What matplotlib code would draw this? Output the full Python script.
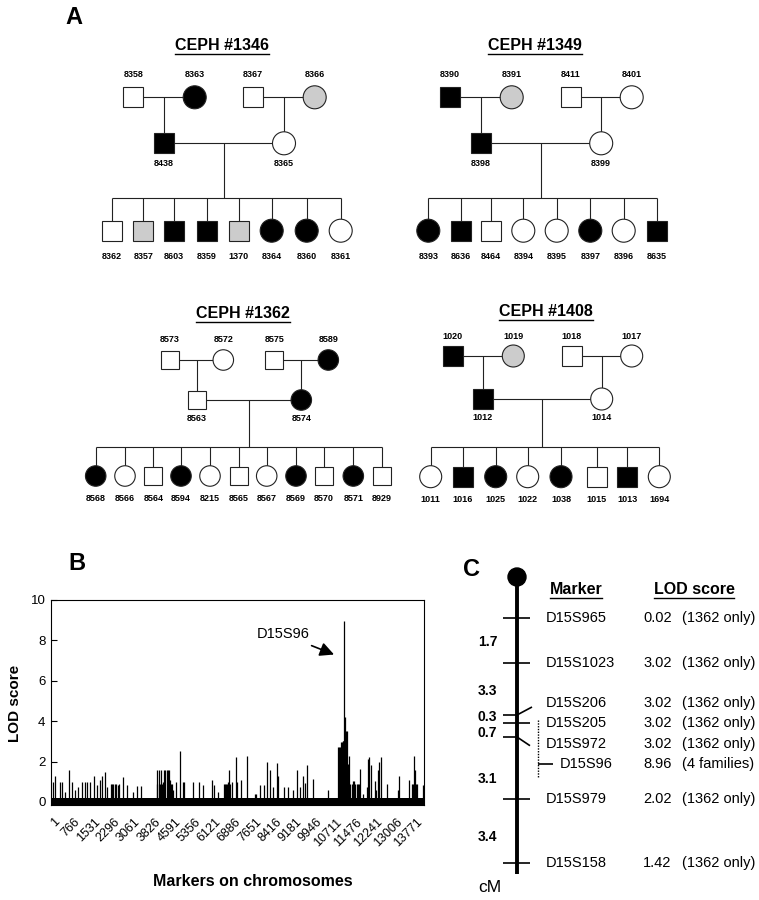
import matplotlib
matplotlib.use('Agg')
import matplotlib.pyplot as plt
from matplotlib.patches import Rectangle, Circle
from matplotlib.transforms import ScaledTranslation

plt.rcParams['font.family'] = ['Liberation Sans', 'DejaVu Sans']

# ---------------- DATA ----------------
# Pedigrees (sex: M/F, status: A affected, U unaffected, G gray/uncertain)
ped_titles = ['CEPH #1346', 'CEPH #1349', 'CEPH #1362', 'CEPH #1408']

f1346_gp_ids = ['8358', '8363', '8367', '8366']
f1346_gp_sex = 'MFMF'
f1346_gp_stat = 'UAUG'
f1346_par_ids = ['8438', '8365']
f1346_par_sex = 'MF'
f1346_par_stat = 'AU'
f1346_kid_ids = ['8362', '8357', '8603', '8359', '1370', '8364', '8360', '8361']
f1346_kid_sex = 'MMMMMFFF'
f1346_kid_stat = 'UGAAGAAU'

f1349_gp_ids = ['8390', '8391', '8411', '8401']
f1349_gp_sex = 'MFMF'
f1349_gp_stat = 'AGUU'
f1349_par_ids = ['8398', '8399']
f1349_par_sex = 'MF'
f1349_par_stat = 'AU'
f1349_kid_ids = ['8393', '8636', '8464', '8394', '8395', '8397', '8396', '8635']
f1349_kid_sex = 'FMMFFFFM'
f1349_kid_stat = 'AAUUUAUA'

f1362_gp_ids = ['8573', '8572', '8575', '8589']
f1362_gp_sex = 'MFMF'
f1362_gp_stat = 'UUUA'
f1362_par_ids = ['8563', '8574']
f1362_par_sex = 'MF'
f1362_par_stat = 'UA'
f1362_kid_ids = ['8568', '8566', '8564', '8594', '8215', '8565', '8567', '8569', '8570', '8571', '8929']
f1362_kid_sex = 'FFMFFMFFMFM'
f1362_kid_stat = 'AUUAUUUAUAU'

f1408_gp_ids = ['1020', '1019', '1018', '1017']
f1408_gp_sex = 'MFMF'
f1408_gp_stat = 'AGUU'
f1408_par_ids = ['1012', '1014']
f1408_par_sex = 'MF'
f1408_par_stat = 'AU'
f1408_kid_ids = ['1011', '1016', '1025', '1022', '1038', '1015', '1013', '1694']
f1408_kid_sex = 'FMFFFMMF'
f1408_kid_stat = 'UAAUAUAU'

# Panel B: genome-wide LOD scores (marker index, LOD)
marker_pos = [63, 164, 341, 417, 544, 695, 809, 898, 1037, 1163, 1290, 1378, 1479, 1644, 1732,
              1859, 1947, 2036, 2112, 2276, 2320, 2370, 2428, 2480, 2530, 2580, 2744, 2870, 3098,
              3275, 3402, 4008, 4040, 4084, 4120, 4160, 4198, 4261, 4300, 4340, 4388, 4430, 4470,
              4514, 4550, 4590, 4641, 4742, 4894, 4995, 5040, 5374, 5627, 5753, 6107, 6183, 6323,
              6563, 6600, 6640, 6664, 6700, 6765, 6800, 6850, 7018, 7060, 7195, 7448, 7739, 7790,
              7929, 8093, 8206, 8308, 8434, 8561, 8624, 8839, 9003, 9193, 9319, 9446, 9547, 9636,
              9699, 9952, 10521, 10900, 10930, 10963, 10995, 11026, 11060, 11090, 11128, 11153,
              11185, 11216, 11250, 11292, 11340, 11406, 11450, 11494, 11540, 11596, 11640, 11697,
              11722, 11850, 11975, 12013, 12076, 12139, 12291, 12330, 12392, 12455, 12506, 12734,
              13177, 13214, 13593, 13680, 13745, 13783, 13821, 13860, 13897, 14124]
lod_values = [1.0, 1.3, 1.0, 1.0, 0.5, 1.6, 1.0, 0.6, 0.75, 1.0, 1.0, 1.0, 1.0, 1.3, 0.85,
              1.1, 1.3, 1.5, 0.75, 0.9, 0.9, 0.9, 0.9, 0.9, 0.85, 0.9, 1.25, 0.85, 0.5,
              0.8, 0.8, 1.6, 0.9, 1.6, 0.9, 1.6, 0.9, 1.0, 1.6, 1.6, 1.6, 1.6, 1.6,
              1.1, 0.9, 0.9, 0.6, 1.0, 2.5, 1.0, 1.0, 1.0, 1.0, 0.85, 1.1, 0.85, 0.5,
              0.9, 0.9, 0.9, 0.9, 1.0, 1.6, 0.9, 1.0, 2.25, 1.0, 1.1, 2.3, 0.4, 0.4,
              0.85, 0.85, 2.0, 1.6, 0.75, 1.95, 1.3, 0.75, 0.75, 0.6, 1.6, 0.75, 1.3, 0.95,
              1.85, 1.15, 0.6, 2.7, 2.7, 2.7, 2.95, 2.95, 3.0, 3.0, 8.96, 4.2,
              3.5, 3.5, 1.9, 2.3, 0.9, 0.9, 1.05, 1.05, 0.9, 0.9, 0.9, 0.9,
              1.65, 0.4, 0.75, 2.15, 2.25, 1.85, 1.05, 0.6, 1.6, 2.0, 2.25, 0.9,
              0.6, 1.3, 1.1, 0.9, 0.9, 2.3, 1.6, 0.9, 0.9, 0.85]
baseline_lod = 0.22
x_tick_labels = ['1', '766', '1531', '2296', '3061', '3826', '4591', '5356', '6121', '6886',
                 '7651', '8416', '9181', '9946', '10711', '11476', '12241', '13006', '13771']
peak_marker = 'D15S96'
peak_pos = 11128
peak_lod = 8.96

# Panel C: chromosome 15 map
c_markers = ['D15S965', 'D15S1023', 'D15S206', 'D15S205', 'D15S972', 'D15S96', 'D15S979', 'D15S158']
c_lods = ['0.02', '3.02', '3.02', '3.02', '3.02', '8.96', '2.02', '1.42']
c_notes = ['(1362 only)', '(1362 only)', '(1362 only)', '(1362 only)', '(1362 only)',
           '(4 families)', '(1362 only)', '(1362 only)']
c_distances = ['1.7', '3.3', '0.3', '0.7', '3.1', '3.4']

# ---------------- FIGURE ----------------
W, H = 759, 900
fig = plt.figure(figsize=(W / 100, H / 100), dpi=100)
ov = fig.add_axes([0, 0, 1, 1])
ov.set_xlim(0, W)
ov.set_ylim(H, 0)
ov.axis('off')

GRAY = '#cccccc'
LC = '#222222'
underline_targets = []

fams = [
    dict(title=ped_titles[0], tx=222, ty=45, gp_x=[133.3, 194.7, 253.3, 314.7], gp_y=97.3, par_y=143.3,
         kid_x=[111.7, 143.3, 174.3, 206.7, 238.7, 271.7, 306.7, 340.7], kid_y=230.7, sib_y=197.7,
         sq=20, cd=23, dgp=-23, dpar=20, dkid=26,
         gp=(f1346_gp_ids, f1346_gp_sex, f1346_gp_stat), par=(f1346_par_ids, f1346_par_sex, f1346_par_stat),
         kid=(f1346_kid_ids, f1346_kid_sex, f1346_kid_stat)),
    dict(title=ped_titles[1], tx=535, ty=45, gp_x=[450, 511.7, 570.7, 631.7], gp_y=97.3, par_y=143.3,
         kid_x=[428.3, 460.7, 491, 523.3, 556.7, 590.3, 623.7, 656.7], kid_y=230.7, sib_y=197.7,
         sq=20, cd=23, dgp=-23, dpar=20, dkid=26,
         gp=(f1349_gp_ids, f1349_gp_sex, f1349_gp_stat), par=(f1349_par_ids, f1349_par_sex, f1349_par_stat),
         kid=(f1349_kid_ids, f1349_kid_sex, f1349_kid_stat)),
    dict(title=ped_titles[2], tx=243.3, ty=313, gp_x=[170, 223.3, 274.3, 328.3], gp_y=360, par_y=400,
         kid_x=[95.7, 125, 153.3, 181, 210, 238.7, 266.7, 296, 324, 353.3, 382], kid_y=476, sib_y=446.7,
         sq=18, cd=20.5, dgp=-20, dpar=18.3, dkid=22.5,
         gp=(f1362_gp_ids, f1362_gp_sex, f1362_gp_stat), par=(f1362_par_ids, f1362_par_sex, f1362_par_stat),
         kid=(f1362_kid_ids, f1362_kid_sex, f1362_kid_stat)),
    dict(title=ped_titles[3], tx=545.7, ty=311, gp_x=[452.7, 513.3, 571.7, 631.7], gp_y=356, par_y=399,
         kid_x=[430.7, 462.7, 495.7, 527.7, 561, 596.7, 627.3, 659.3], kid_y=476.7, sib_y=446.7,
         sq=20, cd=22, dgp=-19.3, dpar=18.7, dkid=23.3,
         gp=(f1408_gp_ids, f1408_gp_sex, f1408_gp_stat), par=(f1408_par_ids, f1408_par_sex, f1408_par_stat),
         kid=(f1408_kid_ids, f1408_kid_sex, f1408_kid_stat)),
]

FILL = {'U': 'white', 'A': 'black', 'G': GRAY}


def symbol(x, y, sex, stat, sq, cd):
    if sex == 'M':
        ov.add_patch(Rectangle((x - sq / 2, y - sq / 2), sq, sq, fc=FILL[stat], ec=LC, lw=0.8, zorder=3))
    else:
        ov.add_patch(Circle((x, y), cd / 2, fc=FILL[stat], ec=LC, lw=0.8, zorder=3))


def half(sex, sq, cd):
    return sq / 2 if sex == 'M' else cd / 2


def line(xs, ys, **kw):
    kw.setdefault('color', LC)
    kw.setdefault('lw', 0.8)
    ov.plot(xs, ys, solid_capstyle='butt', **kw)


for f in fams:
    t = ov.text(f['tx'], f['ty'], f['title'], ha='center', va='center', fontsize=11.5, fontweight='bold')
    underline_targets.append((t, 1.0))
    ids, sexes, stats = f['gp']
    gx, gy = f['gp_x'], f['gp_y']
    pids, psex, pstat = f['par']
    par_x = [(gx[0] + gx[1]) / 2, (gx[2] + gx[3]) / 2]
    py = f['par_y']
    # grandparent couples
    for a, b, px_, pi in [(0, 1, par_x[0], 0), (2, 3, par_x[1], 1)]:
        line([gx[a], gx[b]], [gy, gy])
        line([px_, px_], [gy, py - half(psex[pi], f['sq'], f['cd'])])
    for i in range(4):
        symbol(gx[i], gy, sexes[i], stats[i], f['sq'], f['cd'])
        ov.text(gx[i], gy + f['dgp'], ids[i], ha='center', va='center', fontsize=6.5, fontweight='bold')
    # parents
    line([par_x[0], par_x[1]], [py, py])
    mid = (par_x[0] + par_x[1]) / 2
    line([mid, mid], [py, f['sib_y']])
    for i in range(2):
        symbol(par_x[i], py, psex[i], pstat[i], f['sq'], f['cd'])
        ov.text(par_x[i], py + f['dpar'], pids[i], ha='center', va='center', fontsize=6.5, fontweight='bold')
    # children
    kids, ksex, kstat = f['kid']
    kx, ky = f['kid_x'], f['kid_y']
    line([kx[0], kx[-1]], [f['sib_y'], f['sib_y']])
    for i in range(len(kids)):
        line([kx[i], kx[i]], [f['sib_y'], ky - half(ksex[i], f['sq'], f['cd'])])
        symbol(kx[i], ky, ksex[i], kstat[i], f['sq'], f['cd'])
        ov.text(kx[i], ky + f['dkid'], kids[i], ha='center', va='center', fontsize=6.5, fontweight='bold')

# Panel labels
ov.text(74, 17, 'A', ha='center', va='center', fontsize=17, fontweight='bold')
ov.text(77, 564, 'B', ha='center', va='center', fontsize=17, fontweight='bold')
ov.text(471, 570, 'C', ha='center', va='center', fontsize=17, fontweight='bold')

# ---------------- Panel B ----------------
axB = fig.add_axes([51 / W, (H - 805) / H, 373 / W, 205 / H])
XMAX = 14150
YMIN = -0.15
axB.set_xlim(0, XMAX)
axB.set_ylim(YMIN, 10)
axB.fill_between([0, XMAX], YMIN, baseline_lod, color='black', lw=0)
axB.vlines(marker_pos, YMIN, lod_values, color='black', lw=0.9)
axB.set_yticks([0, 2, 4, 6, 8, 10])
axB.tick_params(axis='y', direction='in', length=4, pad=4, labelsize=9.5)
tick_vals = [int(v) for v in x_tick_labels]
axB.set_xticks(tick_vals)
axB.set_xticklabels(x_tick_labels, rotation=45, ha='right', fontsize=9)
axB.tick_params(axis='x', length=0, pad=8)
off = ScaledTranslation(0.11, 0, fig.dpi_scale_trans)
for lab in axB.get_xticklabels():
    lab.set_transform(lab.get_transform() + off)
for s in axB.spines.values():
    s.set_linewidth(0.8)
axB.annotate(peak_marker, xy=(peak_pos - 390, 7.3), xytext=(8801, 8.3), ha='center', va='center',
             fontsize=10.5,
             arrowprops=dict(arrowstyle='-|>,head_length=0.8,head_width=0.4', color='black', lw=1.2,
                             shrinkA=3, shrinkB=0))
fig.text(15 / W, 1 - 703 / H, 'LOD score', rotation=90, ha='center', va='center', fontsize=11,
         fontweight='bold')
fig.text(253 / W, 1 - 882 / H, 'Markers on chromosomes', ha='center', va='center', fontsize=11.5,
         fontweight='bold')

# ---------------- Panel C ----------------
CX = 517
ov.plot([CX, CX], [577, 874], color='black', lw=2.8, solid_capstyle='butt', zorder=2)
ov.add_patch(Circle((CX, 577), 9, fc='black', ec='black', zorder=3))

row_y = [618, 662.7, 702.7, 723, 744, 764, 799, 862.7]
tick_y = [618, 662.7, 715, 722.7, 737, 764, 799, 862.7]
TK = dict(color='black', lw=1.2)
for i, name in enumerate(c_markers):
    if name == 'D15S96':
        line([538, 553], [764, 764], **TK)
        ov.plot([538, 538], [720, 778], color='black', lw=1.0, ls=(0, (1, 1)))
        ov.text(560, row_y[i], name, ha='left', va='center', fontsize=10.5)
    else:
        ty = tick_y[i]
        if name == 'D15S206':
            line([503, CX], [ty, ty], **TK)
            line([CX, 532], [ty, 707], **TK)
        elif name == 'D15S972':
            line([503, CX], [ty, ty], **TK)
            line([CX, 530], [ty, 745.7], **TK)
        else:
            line([503, 530], [ty, ty], **TK)
        ov.text(546, row_y[i], name, ha='left', va='center', fontsize=10.5)
    ov.text(643, row_y[i], c_lods[i], ha='left', va='center', fontsize=10.5)
    ov.text(682, row_y[i], c_notes[i], ha='left', va='center', fontsize=10.5)

dist_y = [641.7, 690.7, 716.7, 733, 779, 837]
for d, y in zip(c_distances, dist_y):
    ov.text(478, y, d, ha='left', va='center', fontsize=10, fontweight='bold')
ov.text(478, 887, 'cM', ha='left', va='center', fontsize=12.5)

h1 = ov.text(576, 589, 'Marker', ha='center', va='center', fontsize=11.5, fontweight='bold')
h2 = ov.text(694, 589, 'LOD score', ha='center', va='center', fontsize=11.5, fontweight='bold')
underline_targets += [(h1, 1.0), (h2, 1.0)]

# underlines
fig.canvas.draw()
for t, lw in underline_targets:
    bb = t.get_window_extent()
    yy = H - bb.y0 + 1.5
    ov.plot([bb.x0, bb.x1], [yy, yy], color='black', lw=lw)

fig.savefig('out.png', dpi=100)
